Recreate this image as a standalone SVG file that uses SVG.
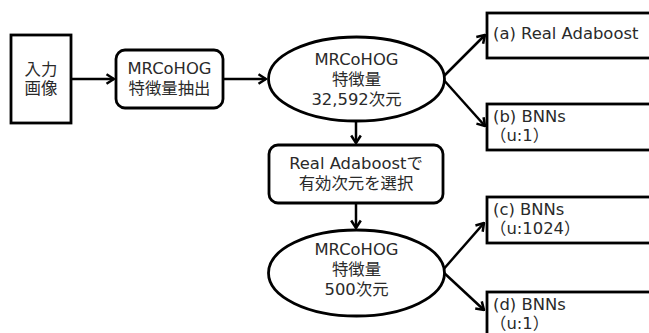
<svg xmlns="http://www.w3.org/2000/svg" width="649" height="333" viewBox="0 0 649 333">
<style>
.shape{fill:#fff;stroke:#000;stroke-width:2.8}
.lbl{font-family:"DejaVu Sans","Noto Sans CJK JP",sans-serif;font-size:16.4px;fill:#2a2a2a}
.mid{text-anchor:middle}
.conn{stroke:#000;stroke-width:2.5;fill:none;marker-end:url(#arr)}
</style>
<defs>
<marker id="arr" viewBox="0 0 10 12" refX="9" refY="6" markerWidth="10" markerHeight="12" markerUnits="userSpaceOnUse" orient="auto">
<path d="M1.5,1.2 L9,6 L1.5,10.8" fill="none" stroke="#000" stroke-width="2.5" stroke-linejoin="miter"/>
</marker>
</defs>
<rect width="649" height="333" fill="#fff"/>
<g id="connectors">
<line class="conn" x1="71" y1="79" x2="114" y2="79"/>
<line class="conn" x1="223" y1="79" x2="266" y2="79"/>
<line class="conn" x1="442" y1="78" x2="485" y2="35"/>
<line class="conn" x1="442" y1="78" x2="485" y2="126"/>
<line class="conn" x1="356" y1="121" x2="356" y2="143"/>
<line class="conn" x1="356" y1="203" x2="356" y2="228"/>
<line class="conn" x1="442" y1="271" x2="484" y2="223"/>
<line class="conn" x1="442" y1="271" x2="484" y2="310"/>
</g>
<g id="input">
<rect class="shape" x="11" y="35" width="60" height="88"/>
<text class="lbl mid" x="41" y="75">入力</text>
<text class="lbl mid" x="41" y="94">画像</text>
</g>
<g id="extract">
<rect class="shape" x="116" y="50" width="107" height="58" rx="9"/>
<text class="lbl mid" x="169.5" y="74">MRCoHOG</text>
<text class="lbl mid" x="169.5" y="94">特徴量抽出</text>
</g>
<g id="feat1">
<ellipse class="shape" cx="356.5" cy="79" rx="88" ry="42"/>
<text class="lbl mid" x="356.5" y="65">MRCoHOG</text>
<text class="lbl mid" x="356.5" y="85">特徴量</text>
<text class="lbl mid" x="356.5" y="105">32,592次元</text>
</g>
<g id="select">
<rect class="shape" x="269" y="145" width="174" height="58" rx="9"/>
<text class="lbl mid" x="356" y="169">Real Adaboostで</text>
<text class="lbl mid" x="356" y="189">有効次元を選択</text>
</g>
<g id="feat2">
<ellipse class="shape" cx="356.5" cy="273" rx="88" ry="43"/>
<text class="lbl mid" x="356.5" y="255">MRCoHOG</text>
<text class="lbl mid" x="356.5" y="275">特徴量</text>
<text class="lbl mid" x="356.5" y="295">500次元</text>
</g>
<g id="a">
<rect class="shape" x="487" y="13" width="180" height="45"/>
<text class="lbl" x="493" y="39">(a) Real Adaboost</text>
</g>
<g id="b">
<rect class="shape" x="487" y="104" width="180" height="46"/>
<text class="lbl" x="493" y="122">(b) BNNs</text>
<text class="lbl" x="490" y="141">（u:1）</text>
</g>
<g id="c">
<rect class="shape" x="487" y="197" width="180" height="46"/>
<text class="lbl" x="493" y="215">(c) BNNs</text>
<text class="lbl" x="490" y="234">（u:1024）</text>
</g>
<g id="d">
<rect class="shape" x="487" y="292" width="180" height="60"/>
<text class="lbl" x="493" y="310">(d) BNNs</text>
<text class="lbl" x="490" y="329">（u:1）</text>
</g>
</svg>
